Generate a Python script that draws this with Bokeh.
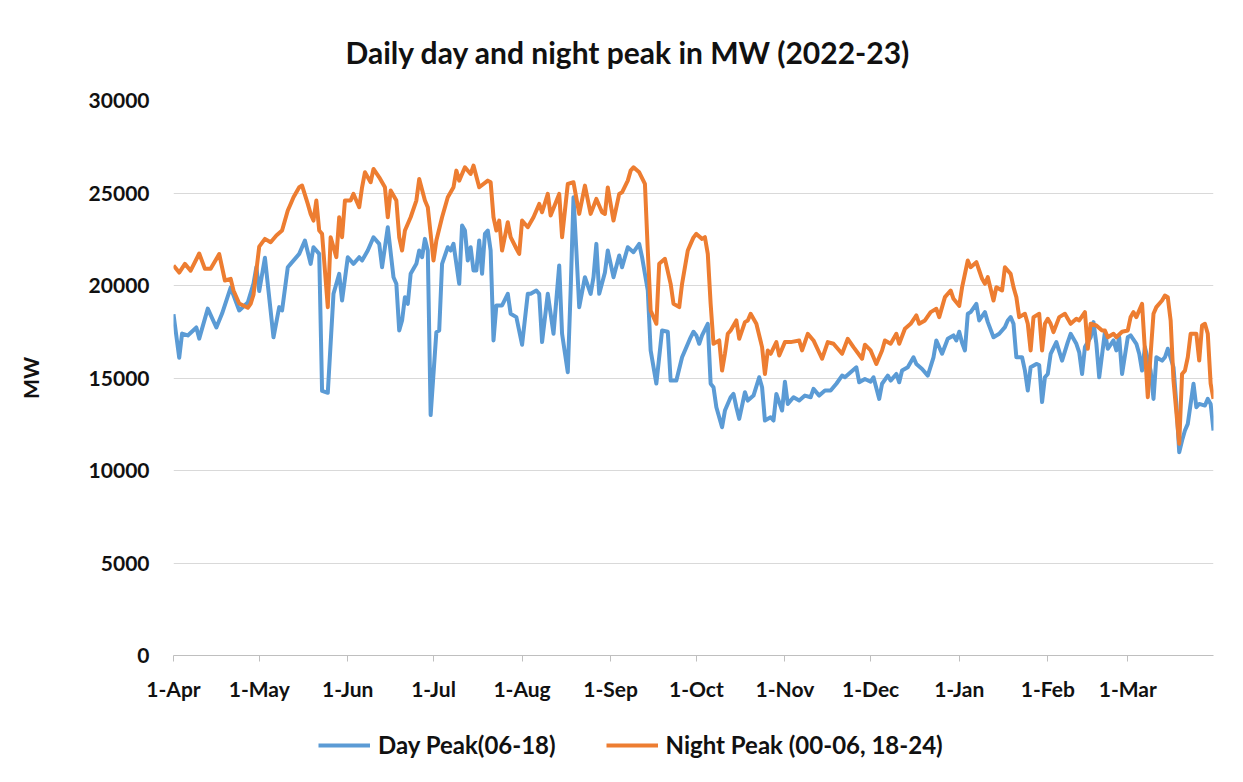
from datetime import datetime, timedelta
from bokeh.plotting import figure
from bokeh.layouts import column
from bokeh.models import (Range1d, MonthsTicker, DatetimeTickFormatter, Legend,
                          LegendItem, FixedTicker)
from bokeh.embed import file_html
from bokeh.resources import INLINE

TITLE = "Daily day and night peak in MW (2022-23)"
Y_LABEL = "MW"
START = datetime(2022, 4, 1)
N_DAYS = 365
Y_TICKS = [0, 5000, 10000, 15000, 20000, 25000, 30000]
DAY_NAME = "Day Peak(06-18)"
NIGHT_NAME = "Night Peak (00-06, 18-24)"

# day offsets from 1-Apr-2022 and MW values
day_days = [0, 2, 3, 5, 8, 9, 12, 15, 17, 20, 23, 26, 28, 29, 30, 32, 35, 37, 38, 40,
            41, 44, 46, 48, 49, 51, 52, 54, 56, 58, 59, 61, 63, 65, 66, 68, 70, 72, 73, 75,
            77, 78, 79, 80, 81, 82, 83, 85, 86, 87, 88, 89, 90, 92, 93, 94, 96, 97, 98, 100,
            101, 102, 103, 104, 105, 106, 107, 108, 109, 110, 111, 112, 113, 115, 117, 118, 120, 122, 124, 125,
            127, 128, 129, 131, 132, 133, 135, 136, 138, 139, 140, 141, 142, 144, 146, 147, 148, 149, 151, 152,
            154, 156, 157, 159, 161, 163, 164, 166, 167, 169, 171, 173, 174, 176, 178, 181, 182, 183, 184, 185,
            187, 188, 189, 190, 192, 193, 195, 196, 197, 198, 200, 201, 203, 205, 206, 207, 209, 210, 211, 213,
            214, 215, 217, 219, 221, 223, 224, 226, 228, 230, 232, 234, 235, 237, 239, 240, 242, 244, 245, 247,
            248, 250, 251, 253, 254, 255, 257, 259, 260, 262, 264, 266, 267, 269, 271, 273, 274, 275, 276, 277,
            278, 279, 281, 282, 284, 285, 287, 289, 291, 292, 293, 294, 295, 297, 298, 299, 300, 302, 303, 304,
            305, 306, 307, 309, 311, 313, 314, 316, 317, 318, 319, 321, 322, 323, 324, 326, 327, 329, 330, 331,
            332, 334, 335, 337, 338, 339, 340, 342, 343, 344, 346, 347, 348, 350, 351, 352, 353, 354, 355, 357,
            358, 359, 361, 362, 363, 364]
day_mw = [18450, 16100, 17400, 17300, 17730, 17130, 18750, 17730, 18485, 19890, 18650, 19080, 20100, 21000, 19700, 21500, 17200, 18830, 18650, 20990,
          21170, 21710, 22430, 21170, 22070, 21710, 14300, 14200, 19550, 20630, 19190, 21530, 21170, 21530, 21350, 21890, 22610, 22250, 20990, 23150,
          20450, 20090, 17570, 18110, 19370, 19010, 20630, 21170, 21890, 21530, 22520, 21890, 13000, 17480, 17570, 21170, 22070, 21890, 22250, 20090,
          23240, 22970, 21350, 22070, 20810, 20810, 22430, 20630, 22790, 22970, 21890, 17030, 18920, 18920, 19550, 18470, 18290, 16800, 19550, 19550,
          19730, 19550, 16940, 19550, 18470, 17390, 21080, 17390, 15310, 19730, 24770, 21890, 18830, 20450, 19550, 20450, 22250, 19550, 20700, 21890,
          20450, 21620, 20990, 22070, 21800, 22250, 21530, 19730, 16490, 14700, 17570, 17500, 14860, 14860, 16120, 17200, 17500, 17300, 16850, 17300,
          17930, 14690, 14500, 13420, 12340, 13240, 13960, 14140, 13420, 12790, 14230, 13780, 14050, 15040, 14500, 12700, 12880, 12700, 14140, 13240,
          14800, 13600, 13960, 13780, 14050, 13960, 14410, 14050, 14320, 14320, 14690, 15130, 15040, 15310, 15580, 14770, 14950, 14800, 15040, 13870,
          14690, 15130, 14860, 15220, 14770, 15400, 15580, 16120, 15760, 15490, 15130, 16120, 17030, 16310, 17120, 17300, 17030, 17500, 16900, 16490,
          18470, 18560, 19010, 18110, 18560, 18020, 17200, 17390, 17750, 18110, 18290, 17930, 16120, 16120, 15400, 14320, 15580, 15760, 15700, 13700,
          15040, 15220, 16300, 16940, 15940, 16940, 17390, 16850, 16390, 15220, 16670, 17200, 18020, 16850, 15040, 17480, 16580, 17030, 16490, 17200,
          15220, 17200, 17300, 16850, 16310, 15400, 16670, 15400, 13870, 16120, 15940, 16120, 16580, 15580, 13600, 10990, 11620, 12160, 12520, 14690,
          13420, 13600, 13510, 13870, 13600, 12160]

night_days = [0, 2, 4, 6, 9, 11, 13, 16, 18, 20, 21, 23, 26, 27, 28, 30, 32, 34, 36, 38,
              40, 41, 42, 44, 45, 47, 48, 49, 50, 51, 52, 54, 55, 57, 58, 59, 60, 62, 63, 65,
              66, 67, 69, 70, 72, 74, 75, 76, 78, 79, 80, 81, 83, 85, 86, 88, 89, 90, 91, 92,
              94, 96, 98, 99, 100, 102, 104, 105, 107, 110, 111, 112, 113, 114, 115, 117, 118, 120, 121, 122,
              124, 126, 128, 129, 131, 132, 135, 136, 138, 140, 142, 144, 146, 148, 150, 151, 152, 154, 156, 157,
              159, 160, 161, 163, 165, 166, 167, 169, 170, 172, 174, 175, 177, 178, 180, 181, 182, 183, 185, 186,
              187, 188, 189, 191, 192, 193, 194, 195, 197, 198, 200, 201, 202, 204, 206, 207, 208, 209, 211, 212,
              214, 216, 219, 220, 222, 224, 227, 229, 231, 234, 236, 238, 241, 242, 244, 246, 248, 249, 251, 253,
              254, 256, 258, 260, 261, 263, 265, 267, 268, 270, 272, 273, 275, 276, 278, 279, 281, 282, 283, 284,
              285, 287, 288, 290, 291, 293, 294, 295, 296, 298, 299, 300, 301, 303, 304, 305, 306, 307, 308, 310,
              312, 314, 316, 317, 319, 320, 321, 323, 325, 326, 327, 329, 330, 332, 334, 335, 336, 337, 339, 341,
              342, 343, 344, 346, 347, 348, 349, 350, 352, 353, 354, 355, 356, 358, 359, 360, 361, 362, 363, 364]
night_mw = [21080, 20700, 21170, 20800, 21730, 20900, 20900, 21700, 20270, 20360, 19730, 19025, 18800, 19010, 19500, 22100, 22520, 22340, 22700, 22970,
            24050, 24410, 24770, 25310, 25400, 24410, 23870, 23510, 24590, 22970, 22790, 18830, 22610, 21530, 23690, 22610, 24590, 24600, 24950, 24230,
            25310, 26120, 25580, 26300, 25850, 25310, 23690, 25130, 24590, 22610, 21890, 22970, 23690, 24590, 25760, 24590, 24230, 22790, 21350, 22430,
            23690, 24770, 25310, 26210, 25670, 26390, 26030, 26480, 25310, 25670, 25580, 23690, 22970, 23510, 21890, 23420, 22610, 22000, 21710, 23510,
            23150, 23690, 24410, 23960, 24950, 23780, 24950, 22610, 25490, 25580, 23870, 25400, 23870, 24680, 23960, 23870, 25300, 23510, 24950, 25040,
            25670, 26210, 26390, 26120, 25490, 21890, 18650, 17930, 21170, 21440, 20090, 19010, 18830, 20090, 21890, 22250, 22600, 22790, 22520, 22610,
            21710, 19010, 16850, 17030, 15400, 16310, 17390, 17570, 18110, 17120, 18020, 18110, 18470, 17930, 16670, 15220, 16490, 16310, 16940, 16220,
            16940, 16940, 17030, 16490, 17390, 17030, 16040, 16940, 16850, 16310, 17120, 16670, 16040, 16800, 16490, 15760, 16490, 17030, 16850, 17390,
            16850, 17660, 17930, 18380, 17930, 18110, 18560, 18740, 18290, 19370, 19730, 19280, 18900, 19900, 21350, 20990, 21260, 20810, 20360, 20090,
            20450, 19190, 19910, 19730, 20990, 20630, 19910, 19370, 18290, 18470, 17930, 16490, 18290, 18470, 16490, 17930, 18200, 17930, 17480, 18290,
            18470, 17930, 18200, 18110, 18560, 16580, 17930, 17840, 17570, 17570, 17200, 17390, 17200, 17500, 17570, 18300, 18560, 18290, 19010, 13960,
            16310, 18470, 18830, 19190, 19460, 19370, 18110, 14860, 11440, 15220, 15400, 16120, 17390, 17390, 15940, 17840, 17930, 17390, 14690, 13870]

BLUE = "#5B9BD5"
ORANGE = "#ED7D31"
FONT = "Lato"
TXT = "#111111"

day_x = [START + timedelta(days=d) for d in day_days]
night_x = [START + timedelta(days=d) for d in night_days]
x_range = Range1d(START, START + timedelta(days=N_DAYS - 1))

p = figure(x_axis_type="datetime", output_backend="svg", toolbar_location=None,
           frame_width=1040, frame_height=555,
           min_border_left=173, min_border_right=22, min_border_top=99, min_border_bottom=57,
           x_range=x_range, y_range=Range1d(0, 30000))

p.line(day_x, day_mw, line_color=BLUE, line_width=4, line_join="round")
p.line(night_x, night_mw, line_color=ORANGE, line_width=4, line_join="round")

p.title.text = TITLE
p.title.align = "left"
p.title.offset = 172
p.title.text_font = FONT
p.title.text_font_size = "30px"
p.title.text_font_style = "bold"
p.title.text_color = TXT
p.title.standoff = 62

p.outline_line_color = None
p.background_fill_color = "white"
p.border_fill_color = "white"
p.xgrid.grid_line_color = None
p.ygrid.grid_line_color = "#d9d9d9"
p.ygrid.grid_line_width = 1

p.yaxis.ticker = FixedTicker(ticks=Y_TICKS)
p.yaxis.axis_line_color = None
p.yaxis.major_tick_line_color = None
p.yaxis.minor_tick_line_color = None
p.yaxis.major_label_standoff = 18
p.yaxis.axis_label = Y_LABEL
p.yaxis.axis_label_standoff = 43
p.yaxis.axis_label_text_font = FONT
p.yaxis.axis_label_text_font_size = "21px"
p.yaxis.axis_label_text_font_style = "bold"
p.yaxis.axis_label_text_color = TXT

p.xaxis.ticker = MonthsTicker(months=list(range(12)))
fmt = "%-d-%b"
p.xaxis.formatter = DatetimeTickFormatter(days=fmt, months=fmt, years=fmt)
p.xaxis.axis_line_color = "#bfbfbf"
p.xaxis.major_tick_line_color = "#bfbfbf"
p.xaxis.major_tick_out = 6
p.xaxis.major_tick_in = 0
p.xaxis.minor_tick_line_color = None
p.xaxis.major_label_standoff = 14

for ax in (p.xaxis, p.yaxis):
    ax.major_label_text_font = FONT
    ax.major_label_text_font_size = "21px"
    ax.major_label_text_font_style = "bold"
    ax.major_label_text_color = TXT

# legend strip below the chart: same series, drawn outside its visible y-range,
# so that only the legend swatches and labels show
lg = figure(x_axis_type="datetime", output_backend="svg", toolbar_location=None,
            width=1235, height=67, min_border=0,
            x_range=x_range, y_range=Range1d(-2, -1))
lg.axis.visible = False
lg.grid.visible = False
lg.outline_line_color = None
sw_day = lg.line(day_x, day_mw, line_color=BLUE, line_width=4)
sw_night = lg.line(night_x, night_mw, line_color=ORANGE, line_width=4)
legend = Legend(items=[LegendItem(label=DAY_NAME, renderers=[sw_day]),
                       LegendItem(label=NIGHT_NAME, renderers=[sw_night])],
                orientation="horizontal", location=(145, 20),
                glyph_width=52, glyph_height=24, label_standoff=8, spacing=50,
                padding=0, margin=0, border_line_color=None, background_fill_alpha=0,
                label_text_font=FONT, label_text_font_size="24px",
                label_text_font_style="bold", label_text_color=TXT)
lg.add_layout(legend)

layout = column(p, lg, spacing=0)
open("out.html", "w").write(file_html(layout, INLINE))
